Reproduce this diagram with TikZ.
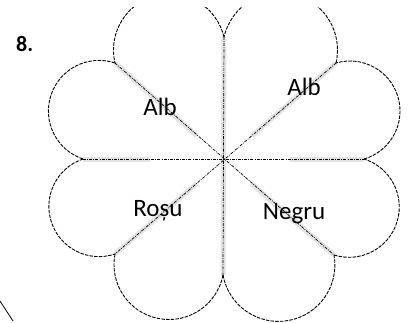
\documentclass[tikz,border=0pt]{standalone}
\usepackage{fontspec}
\setmainfont{Carlito}
\usetikzlibrary{calc}
\tikzset{
  guide/.style={draw=black, line width=0.7pt, dash pattern=on 3pt off 1.2pt on 0.8pt off 1.2pt},
  shade/.style={draw=gray!22, line width=5pt},
  lobe/.style={draw=black, line width=0.9pt, dash pattern=on 3.5pt off 1.2pt},
  lbl/.style={font=\fontsize{25}{25}\selectfont, anchor=base, inner sep=0pt},
}
\newcommand{\semi}[2]{%
  \draw[lobe] let \p1=(#1), \p2=(#2),
    \n1={atan2(\y1-\y2,\x1-\x2)},
    \n2={veclen(\x2-\x1,\y2-\y1)/2} in
    (#1) arc[start angle=\n1, delta angle=180, radius=\n2];}
\begin{document}
\begin{tikzpicture}[x=1pt,y=1pt]
\useasboundingbox (0,0) rectangle (409,322);
\fill[white] (0,0) rectangle (409,322);
% key points
\coordinate (C) at (224,162);
\coordinate (T) at (224,285);
\coordinate (B) at (223,47);
\coordinate (L) at (83,163);
\coordinate (R) at (364,163);
\coordinate (DUL) at (115,259);
\coordinate (DUR) at (336,259);
\coordinate (DLL) at (115,68);
\coordinate (DLR) at (334,67);
\coordinate (S1) at (0,21);
\coordinate (S2) at (13,1);
% scan shading
\draw[shade] (T) -- (B);
\draw[shade] (L) -- (150,163);
\draw[shade] (290,163) -- (R);
\draw[shade] ($(C)!0.25!(DUL)$) -- (DUL);
\draw[shade] ($(C)!0.25!(DUR)$) -- (DUR);
\draw[shade] ($(C)!0.25!(DLL)$) -- (DLL);
\draw[shade] ($(C)!0.25!(DLR)$) -- (DLR);
% guide lines
\draw[guide] (T) -- (B);
\draw[guide] (L) -- (R);
\draw[guide] (DUL) -- (DLR);
\draw[guide] (DUR) -- (DLL);
% lobes
\begin{scope}
\clip (0,0) rectangle (409,314);
\semi{R}{DUR}
\semi{DUR}{T}
\semi{T}{DUL}
\semi{DUL}{L}
\semi{L}{DLL}
\semi{DLL}{B}
\semi{B}{DLR}
\semi{DLR}{R}
\end{scope}
% stray stroke
\draw[line width=0.8pt] (S1) -- (S2);
% labels
\node[lbl] (a1) at (160,207) {Alb};
\node[lbl] (a2) at (304,227) {Alb};
\node[lbl] (r) at (158,106) {Roșu};
\node[lbl] (n) at (294,103) {Negru};
\node[font=\fontsize{22}{22}\selectfont\bfseries, anchor=base west, inner sep=0pt] (num) at (16,270) {8.};
\end{tikzpicture}
\end{document}
